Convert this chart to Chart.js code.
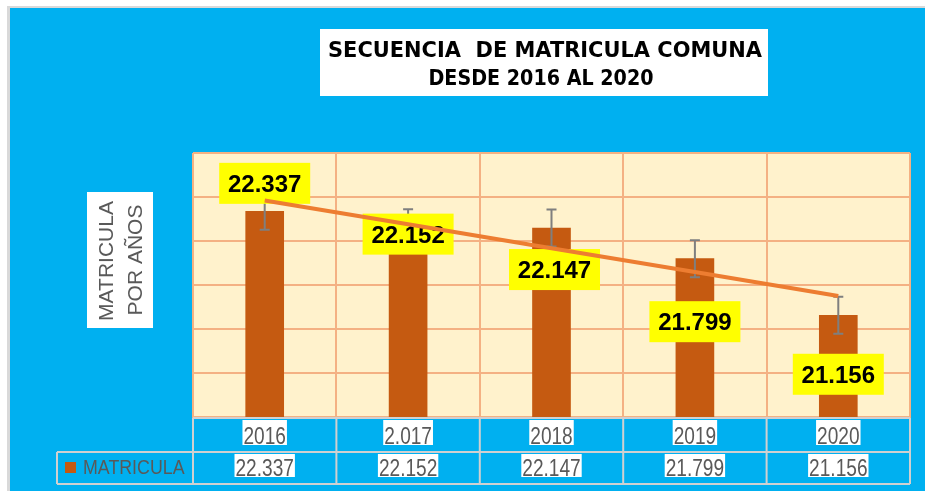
<!DOCTYPE html>
<html lang="es">
<head>
<meta charset="utf-8">
<title>Secuencia de matrícula comuna 2016 - 2020</title>
<script src="https://cdn.jsdelivr.net/npm/chart.js@4.4.1/dist/chart.umd.min.js"></script>
<style>
  html, body { margin: 0; padding: 0; background: #fff; }
  canvas { display: block; }
</style>
</head>
<body>
<canvas id="grafico" width="925" height="491"></canvas>
<script>
// datos
const anios        = ["2016", "2.017", "2018", "2019", "2020"];
const matricula    = [22337, 22152, 22147, 21799, 21156];
const errorBarras  = [210, 210, 210, 210, 210];
const tendencia    = [22461, 22190, 21918, 21647, 21375];
const tituloLineas = ["SECUENCIA  DE MATRICULA COMUNA", "DESDE 2016 AL 2020"];
const tituloEje    = ["MATRICULA", "POR AÑOS"];
const nombreSerie  = "MATRICULA";
const ejeMin = 20000, ejeMax = 23000, ejePaso = 500;

const AZUL   = "#00B0F0";
const BEIGE  = "#FFF2CC";
const SALMON = "#F4B183";
const CAFE   = "#C55A11";
const NARANJA = "#ED7D31";
const GRIS_TEXTO = "#595959";

function miles(n) {
  return String(n).replace(/\B(?=(\d{3})+(?!\d))/g, ".");
}

// texto escalado horizontalmente para que ocupe un ancho dado
function textoAjustado(ctx, txt, cx, y, ancho) {
  const w = ctx.measureText(txt).width;
  ctx.save();
  ctx.translate(cx, y);
  ctx.scale(ancho / w, 1);
  ctx.textAlign = "center";
  ctx.fillText(txt, 0, 0);
  ctx.restore();
}

// texto angosto con recuadro blanco detrás (celdas de la tabla)
function textoCelda(ctx, txt, cx, base, cajaTop, cajaAlto, escala) {
  const w = ctx.measureText(txt).width * escala;
  ctx.fillStyle = "#fff";
  ctx.fillRect(cx - w / 2 - 1, cajaTop, w + 2, cajaAlto);
  ctx.fillStyle = GRIS_TEXTO;
  ctx.save();
  ctx.translate(cx, base);
  ctx.scale(escala, 1);
  ctx.textAlign = "center";
  ctx.fillText(txt, 0, 0);
  ctx.restore();
}

const fondo = {
  id: "fondo",
  beforeDraw(chart) {
    const { ctx, chartArea: a } = chart;
    ctx.save();
    ctx.fillStyle = "#fff";
    ctx.fillRect(0, 0, chart.width, chart.height);
    ctx.fillStyle = "#D9D9D9";
    ctx.fillRect(7, 6, chart.width - 7, chart.height - 6);
    ctx.fillStyle = AZUL;
    ctx.fillRect(10, 8, chart.width - 10, chart.height - 8);
    ctx.fillStyle = BEIGE;
    ctx.fillRect(a.left, a.top, a.right - a.left, a.bottom - a.top);
    ctx.restore();
  }
};

// barras de error y etiquetas amarillas, antes de dibujar la línea de tendencia
const etiquetas = {
  id: "etiquetas",
  afterDatasetDraw(chart, args, opts) {
    if (args.index !== 0) return;
    const { ctx } = chart;
    const ys = chart.scales.y;
    const barras = args.meta.data;
    ctx.save();
    ctx.strokeStyle = "#7F7F7F";
    ctx.lineWidth = 2;
    barras.forEach((b, i) => {
      const yA = ys.getPixelForValue(matricula[i] + errorBarras[i]);
      const yB = ys.getPixelForValue(matricula[i] - errorBarras[i]);
      ctx.beginPath();
      ctx.moveTo(b.x, yA); ctx.lineTo(b.x, yB);
      ctx.moveTo(b.x - 5, yA); ctx.lineTo(b.x + 5, yA);
      ctx.moveTo(b.x - 5, yB); ctx.lineTo(b.x + 5, yB);
      ctx.stroke();
    });
    ctx.font = "bold 24px 'Liberation Sans', Arial, sans-serif";
    ctx.textAlign = "center";
    ctx.textBaseline = "alphabetic";
    barras.forEach((b, i) => {
      const [dx, dy] = opts.desplazamientos[i];
      const cx = b.x + dx, cy = b.y + dy;
      ctx.fillStyle = "#FFFF00";
      ctx.fillRect(cx - 45.5, cy - 20.5, 91, 41);
      ctx.fillStyle = "#000";
      ctx.fillText(miles(matricula[i]), cx, cy + 8.8);
    });
    ctx.restore();
  }
};

const adornos = {
  id: "adornos",
  afterDraw(chart) {
    const { ctx } = chart;
    const xs = chart.scales.x;
    ctx.save();

    // título
    ctx.fillStyle = "#fff";
    ctx.fillRect(320, 29, 448, 67);
    ctx.fillStyle = "#000";
    ctx.font = "bold 21px 'DejaVu Sans', sans-serif";
    ctx.textBaseline = "alphabetic";
    textoAjustado(ctx, tituloLineas[0], 545, 56.5, 434);
    textoAjustado(ctx, tituloLineas[1], 541, 85, 225);

    // título del eje vertical
    ctx.fillStyle = "#fff";
    ctx.fillRect(87, 192, 66, 136);
    ctx.fillStyle = GRIS_TEXTO;
    ctx.font = "21px 'Liberation Sans', Arial, sans-serif";
    ctx.textAlign = "center";
    [[113, 261], [141.5, 260]].forEach(([x, y], i) => {
      ctx.save();
      ctx.translate(x, y);
      ctx.rotate(-Math.PI / 2);
      ctx.fillText(tituloEje[i], 0, 0);
      ctx.restore();
    });

    // tabla de datos
    const n = anios.length;
    const izq = xs.left, der = xs.right;
    const ancho = (der - izq) / n;
    const y0 = 418, y1 = 452, y2 = 484, xLeyenda = 57;
    ctx.strokeStyle = "#D0D0D0";
    ctx.lineWidth = 2;
    ctx.beginPath();
    ctx.moveTo(izq, y0); ctx.lineTo(der, y0);
    ctx.moveTo(xLeyenda, y1); ctx.lineTo(der, y1);
    ctx.moveTo(xLeyenda, y2); ctx.lineTo(der, y2);
    ctx.moveTo(xLeyenda, y1); ctx.lineTo(xLeyenda, y2);
    for (let i = 0; i <= n; i++) {
      const x = izq + i * ancho;
      ctx.moveTo(x, y0); ctx.lineTo(x, y2);
    }
    ctx.stroke();

    ctx.font = "23px 'Liberation Sans', Arial, sans-serif";
    for (let i = 0; i < n; i++) {
      const cx = xs.getPixelForValue(i);
      textoCelda(ctx, anios[i], cx, 443.5, 420, 25, 0.83);
      textoCelda(ctx, miles(matricula[i]), cx, 475.5, 454, 23, 0.83);
    }

    // leyenda de la serie
    ctx.fillStyle = CAFE;
    ctx.fillRect(65, 462, 11, 11);
    ctx.fillStyle = GRIS_TEXTO;
    ctx.font = "20px 'Liberation Sans', Arial, sans-serif";
    ctx.save();
    ctx.translate(83, 473.5);
    ctx.scale(0.89, 1);
    ctx.textAlign = "left";
    ctx.fillText(nombreSerie, 0, 0);
    ctx.restore();

    ctx.restore();
  }
};

new Chart(document.getElementById("grafico"), {
  type: "bar",
  data: {
    labels: anios,
    datasets: [
      {
        label: nombreSerie,
        data: matricula,
        backgroundColor: CAFE,
        barThickness: 38,
        order: 2
      },
      {
        type: "line",
        label: "Tendencia",
        data: tendencia,
        borderColor: NARANJA,
        borderWidth: 4,
        pointRadius: 0,
        tension: 0,
        fill: false,
        order: 1
      }
    ]
  },
  options: {
    responsive: false,
    animation: false,
    layout: { padding: { left: 193, right: 15, top: 153, bottom: 74 } },
    plugins: {
      legend: { display: false },
      tooltip: { enabled: false },
      etiquetas: { desplazamientos: [[0, -28], [0, 6.5], [3, 41.5], [0, 63], [0, 59]] }
    },
    scales: {
      x: {
        offset: true,
        ticks: { display: false },
        grid: { color: SALMON, lineWidth: 2, offset: true, drawTicks: false },
        border: { display: true, color: SALMON, width: 2 }
      },
      y: {
        min: ejeMin,
        max: ejeMax,
        ticks: { display: false, stepSize: ejePaso },
        grid: { color: SALMON, lineWidth: 2, drawTicks: false },
        border: { display: false }
      }
    }
  },
  plugins: [fondo, etiquetas, adornos]
});
</script>
</body>
</html>
